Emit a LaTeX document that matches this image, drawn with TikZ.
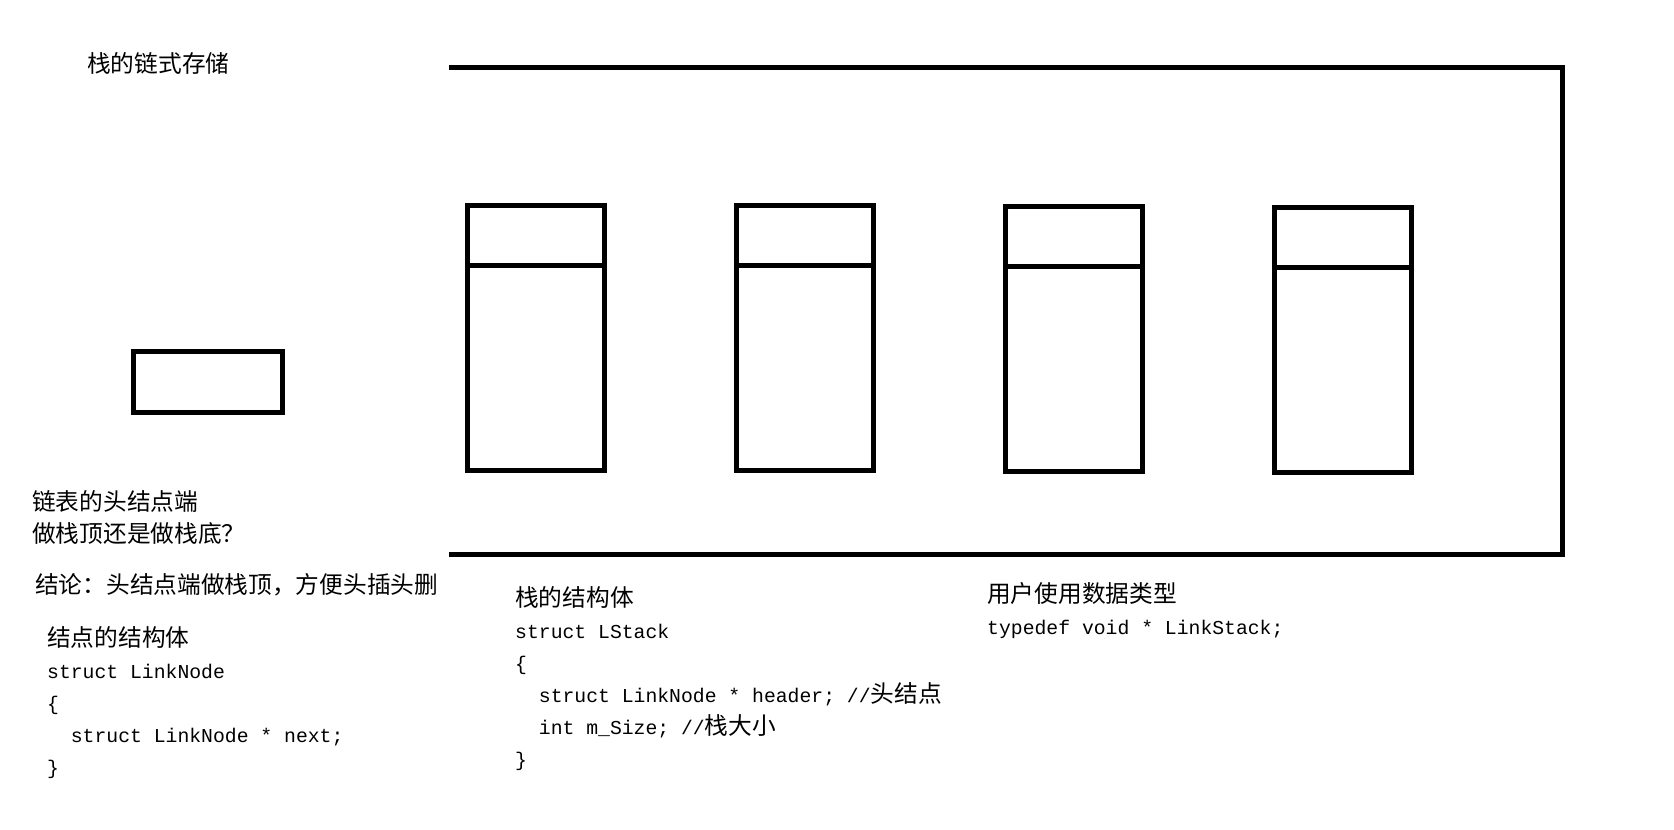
\documentclass[tikz,border=0pt]{standalone}
\usepackage{fontspec}
\setmainfont{Noto Sans CJK SC}
\setmonofont{Liberation Mono}[Scale=0.8333]
\usepackage{tikz}

\begin{document}
\begin{tikzpicture}[x=1pt,y=-1pt,
                    wall/.style={line width=5pt},
                    note/.style={inner sep=0pt,anchor=north west,align=left,font=\fontsize{23.7}{32}\selectfont}]
                    \useasboundingbox (0,0) rectangle (1674,830);

                    \node[note,anchor=west] (title) at (87,63) {栈的链式存储};

                    \draw[wall] (449,67) -- (1562,67) -- (1562,554) -- (449,554);
                    \draw[wall] (133,351) rectangle (282,412);
                    \foreach \x/\d in {467/0,736/0,1005/1,1274/2}{
                        \draw[wall] (\x,205+\d) rectangle (\x+137,470+\d);
                        \draw[wall] (\x,265+\d) -- (\x+137,265+\d);
                    }

                    \node[note] (question) at (32,490) {链表的头结点端\\做栈顶还是做栈底？};
                    \node[note,anchor=west] (answer) at (35,585) {结论：头结点端做栈顶，方便头插头删};
                    \node[note] (nodestruct) at (47,626) {结点的结构体\\
                        \texttt{struct LinkNode}\\
                        \texttt{\{}\\
                        \hspace*{1em}\texttt{struct LinkNode * next;}\\
                        \texttt{\}}};
                    \node[note] (stackstruct) at (515,586) {栈的结构体\\
                        \texttt{struct LStack}\\
                        \texttt{\{}\\
                        \hspace*{1em}\texttt{struct LinkNode * header; //}头结点\\
                        \hspace*{1em}\texttt{int m\_Size; //}栈大小\\
                        \texttt{\}}};
                    \node[note] (usertype) at (987,582) {用户使用数据类型\\
                        \texttt{typedef void * LinkStack;}};
                \end{tikzpicture}
\end{document}
